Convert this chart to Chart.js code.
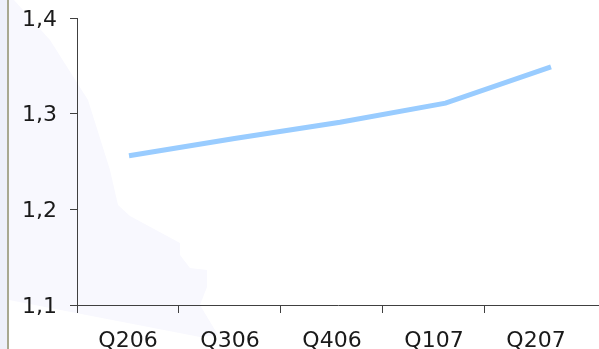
<!DOCTYPE html>
<html>
<head>
<meta charset="utf-8">
<script src="https://cdn.jsdelivr.net/npm/chart.js@4.4.1/dist/chart.umd.min.js"></script>
<style>
  html, body { margin: 0; padding: 0; background: #ffffff; }
  #wrap { position: relative; width: 599px; height: 349px; overflow: hidden; background: #ffffff; }
  #strip { position: absolute; left: 0; top: 0; width: 7px; height: 349px; background: #eef0fa; }
  #rule { position: absolute; left: 7px; top: 0; width: 2px; height: 349px; background: #a8a890; }
  #shade { position: absolute; left: 0; top: 0; width: 599px; height: 349px; background: #f8f8fe;
    clip-path: polygon(9px 0, 14px 0, 50px 40px, 88px 100px, 110px 170px, 118px 205px, 130px 216px, 180px 243px, 180px 255px, 190px 268px, 207px 270px, 207px 287px, 200px 305px, 218px 335px, 200px 337px, 9px 300px); }
  canvas { position: absolute; left: 0; top: 0; }
</style>
</head>
<body>
<div id="wrap">
  <div id="strip"></div>
  <div id="rule"></div>
  <div id="shade"></div>
  <canvas id="c" width="599" height="349"></canvas>
</div>
<script>
const categories = ['Q206', 'Q306', 'Q406', 'Q107', 'Q207'];
const values = [1.256, 1.274, 1.291, 1.311, 1.349];
const yTicks = [1.1, 1.2, 1.3, 1.4];

const points = values.map((v, i) => ({ x: i, y: v }));
const axisColor = '#404040';
const fontSpec = { family: '"DejaVu Sans", Verdana, sans-serif', size: 22 };

new Chart(document.getElementById('c'), {
  type: 'line',
  data: {
    datasets: [{
      data: points,
      xAxisID: 'xd',
      yAxisID: 'y',
      borderColor: '#99ccff',
      borderWidth: 5,
      pointRadius: 0,
      tension: 0,
      fill: false,
      borderCapStyle: 'butt'
    }]
  },
  options: {
    responsive: false,
    animation: false,
    events: [],
    layout: { padding: { top: 18, right: 0, left: 0, bottom: 0 } },
    plugins: { legend: { display: false }, tooltip: { enabled: false } },
    scales: {
      x: {
        type: 'linear',
        position: 'bottom',
        min: -0.5,
        max: 4.618,
        afterBuildTicks: (s) => { s.ticks = categories.map((_, i) => ({ value: i })); },
        afterFit: (s) => { s.height = 44; s.paddingLeft = 0; s.paddingRight = 0; },
        ticks: {
          color: '#1a1a1a',
          font: fontSpec,
          padding: 15,
          maxRotation: 0,
          autoSkip: false,
          callback: (v) => categories[v]
        },
        grid: {
          offset: true,
          drawOnChartArea: false,
          tickLength: 8,
          tickWidth: 1,
          tickColor: (ctx) => (ctx.type === 'tick' ? axisColor : 'rgba(0,0,0,0)')
        },
        border: { display: true, color: axisColor, width: 1 }
      },
      xd: {
        type: 'linear',
        display: false,
        min: -0.4929,
        max: 4.455
      },
      y: {
        type: 'linear',
        min: 1.1,
        max: 1.4,
        afterBuildTicks: (s) => { s.ticks = yTicks.map(v => ({ value: v })); },
        afterFit: (s) => { s.width = 77; s.paddingTop = 0; s.paddingBottom = 0; },
        ticks: {
          color: '#1a1a1a',
          font: fontSpec,
          padding: 13,
          labelOffset: 2,
          callback: (v) => Number(v).toFixed(1).replace('.', ',')
        },
        grid: {
          drawOnChartArea: false,
          tickLength: 7,
          tickWidth: 1,
          tickColor: axisColor
        },
        border: { display: true, color: axisColor, width: 1 }
      }
    }
  }
});
</script>
</body>
</html>
